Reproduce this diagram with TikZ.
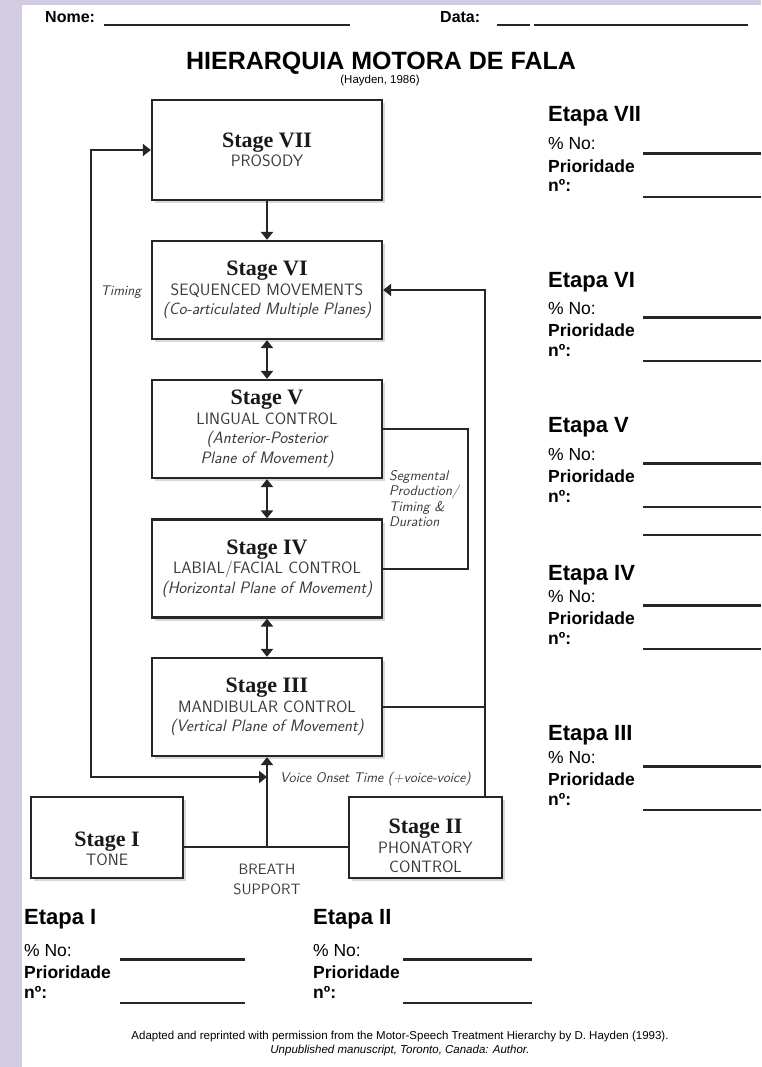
\documentclass[tikz,border=0pt]{standalone}
\usepackage{fontspec}
\usetikzlibrary{arrows.meta,shadows}
\newfontfamily\arialfont{Liberation Sans}
\newfontfamily\timesfont{Liberation Serif}
\definecolor{lavender}{HTML}{D4CCE3}
\definecolor{inkgray}{HTML}{3A3A3A}

\tikzset{
  headtip/.tip={Triangle[width=12pt,length=8pt]},
  stagebox/.style={draw=black!85, line width=2.3pt, fill=white, inner sep=0pt,
    minimum width=230pt, minimum height=98pt, align=center, text=inkgray,
    font=\sffamily\fontsize{16.5}{19.5}\selectfont,
    drop shadow={shadow xshift=2.5pt, shadow yshift=-3pt, opacity=0.3}},
  link/.style={line width=2pt, draw=black!85},
  note/.style={inner sep=0pt, text=inkgray, font=\sffamily\itshape\fontsize{14}{15.5}\selectfont},
  formhead/.style={anchor=base west, inner sep=0pt, font=\arialfont\bfseries\fontsize{22}{22}\selectfont},
  formtext/.style={anchor=base west, inner sep=0pt, font=\arialfont\fontsize{17.5}{17.5}\selectfont},
  formbold/.style={formtext, font=\arialfont\bfseries\fontsize{17.5}{17.5}\selectfont},
  formline/.style={line width=2.4pt, draw=black!85}
}
\newcommand{\stagettl}[1]{{\timesfont\bfseries\fontsize{22}{22}\selectfont\color{black!90}#1}}
\newcommand{\stageit}[1]{{\itshape #1}}
% name, x, title baseline, label, "% No" baseline, line start, line end
\newcommand{\etapablock}[7]{%
  \node[formhead, name=#1] at (#2,#3) {#4};
  \node[formtext, name=#1no] at (#2,#5) {\% No:};
  \node[formbold, name=#1prio] at (#2,#5+22.5) {Prioridade};
  \node[formbold, name=#1nr] at (#2,#5+42) {nº:};
  \draw[formline] (#6,#5+3.5) -- (#7,#5+3.5);
  \draw[formline] (#6,#5+47) -- (#7,#5+47);
}

\begin{document}
\begin{tikzpicture}[x=1pt, y=-1pt]
  \useasboundingbox (0,0) rectangle (761,1067);
  \fill[lavender] (0,0) rectangle (761,1067);
  \fill[white] (22,5) rectangle (761,1067);

  % header
  \node[formbold, font=\arialfont\bfseries\fontsize{16}{16}\selectfont, name=nome] at (45,23) {Nome:};
  \node[formbold, font=\arialfont\bfseries\fontsize{16}{16}\selectfont, name=data] at (440,23) {Data:};
  \draw[formline, line width=1.5pt] (104,25) -- (350,25);
  \draw[formline, line width=1.5pt] (497,25) -- (530,25);
  \draw[formline, line width=1.5pt] (534,25) -- (748,25);
  \node[anchor=base, inner sep=0pt, font=\arialfont\bfseries\fontsize{25}{25}\selectfont, name=title] at (381,70) {HIERARQUIA MOTORA DE FALA};
  \node[anchor=base, inner sep=0pt, font=\arialfont\fontsize{11.5}{11.5}\selectfont, name=source] at (380,84) {(Hayden, 1986)};

  % stages
  \node[stagebox, minimum height=100pt, name=s7] at (267,150) {\stagettl{Stage VII}\\PROSODY};
  \node[stagebox, name=s6] at (267,290) {\stagettl{Stage VI}\\SEQUENCED MOVEMENTS\\\stageit{(Co-articulated Multiple Planes)}};
  \node[stagebox, name=s5] at (267,429) {\stagettl{Stage V}\\LINGUAL CONTROL\\\stageit{(Anterior-Posterior}\\\stageit{Plane of Movement)}};
  \node[stagebox, name=s4] at (267,568.5) {\stagettl{Stage IV}\\LABIAL/FACIAL CONTROL\\\stageit{(Horizontal Plane of Movement)}};
  \node[stagebox, name=s3] at (267,707) {\stagettl{Stage III}\\MANDIBULAR CONTROL\\\stageit{(Vertical Plane of Movement)}};
  \node[stagebox, minimum width=152pt, minimum height=81pt, name=s1] at (107,837.5) {};
  \node[stagebox, minimum width=153pt, minimum height=81pt, name=s2] at (425.5,837.5) {};
  \node[align=center, inner sep=0pt, text=inkgray, font=\sffamily\fontsize{16.5}{19.5}\selectfont, name=s1text] at (107,849) {\stagettl{Stage I}\\TONE};
  \node[align=center, inner sep=0pt, text=inkgray, font=\sffamily\fontsize{16.5}{19.5}\selectfont, name=s2text] at (425.5,846) {\stagettl{Stage II}\\PHONATORY\\CONTROL};

  \coordinate (breath) at (267,847);
  \coordinate (vot) at (267,777);
  \coordinate (railleft) at (91,777);
  \coordinate (railright) at (485,777);
  \coordinate (segrail) at (468,500);

  \draw[link, -headtip] (s7) -- (s6);
  \draw[link, headtip-headtip] (s6) -- (s5);
  \draw[link, headtip-headtip] (s5) -- (s4);
  \draw[link, headtip-headtip] (s4) -- (s3);
  \draw[link] (s1.east |- breath) -- (s2.west |- breath);
  \draw[link, -headtip] (breath) -- (s3.south);
  \draw[link, headtip-headtip] (vot) -- (railleft) |- (s7.west);
  \draw[link, -headtip] (s2.north -| railright) |- (s6.east);
  \draw[link] (s3.east) -- (s3.east -| railright);
  \draw[link] (s5.east) -| (segrail) |- (s4.east);

  \node[note, name=timinglbl] at (121,292) {Timing};
  \node[note, anchor=base west, name=votlbl] at (280,782) {Voice Onset Time (+voice-voice)};
  \node[note, anchor=north west, align=left, name=seglbl] at (389,470) {Segmental\\Production/\\Timing \&\\Duration};
  \node[align=center, inner sep=0pt, text=inkgray, font=\sffamily\fontsize{15}{20}\selectfont, name=breathlbl] at (267,879) {BREATH\\SUPPORT};

  % score sheet
  \etapablock{e7}{548}{122}{Etapa VII}{150}{643}{761}
  \etapablock{e6}{548}{287}{Etapa VI}{314}{643}{761}
  \etapablock{e5}{548}{432}{Etapa V}{460}{643}{761}
  \draw[formline] (643,535) -- (761,535);
  \etapablock{e4}{548}{580}{Etapa IV}{602}{643}{761}
  \etapablock{e3}{548}{740}{Etapa III}{763}{643}{761}
  \etapablock{e1}{24}{924}{Etapa I}{956}{120}{245}
  \etapablock{e2}{313}{924}{Etapa II}{956}{403}{532}

  \node[anchor=base, inner sep=0pt, font=\arialfont\fontsize{11.5}{11.5}\selectfont, name=credit] at (400,1039) {Adapted and reprinted with permission from the Motor-Speech Treatment Hierarchy by D. Hayden (1993).};
  \node[anchor=base, inner sep=0pt, font=\arialfont\itshape\fontsize{11.5}{11.5}\selectfont, name=creditb] at (400,1053) {Unpublished manuscript, Toronto, Canada: Author.};
\end{tikzpicture}
\end{document}
